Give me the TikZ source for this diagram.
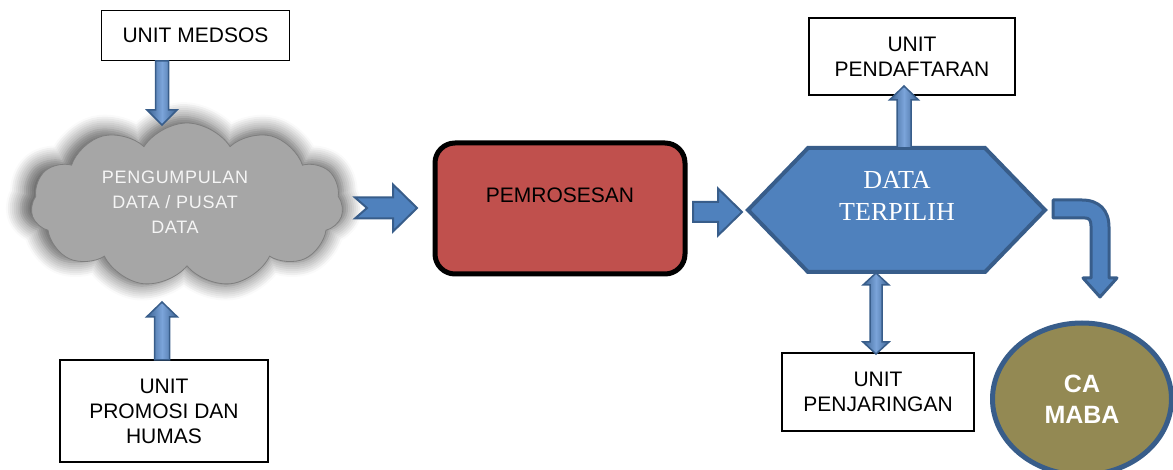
\documentclass[tikz,border=0pt]{standalone}
\usepackage{fontspec}
\setmainfont{Liberation Sans}
\newfontfamily\hexfont{Liberation Serif}
\newfontfamily\cloudfont[LetterSpace=4]{Liberation Sans}
\usetikzlibrary{shapes.symbols,shapes.geometric,calc,shadows.blur}
\definecolor{ablue}{HTML}{4F81BD}
\definecolor{dblue}{HTML}{385D8A}
\definecolor{lblue}{HTML}{7BA4DA}
\definecolor{procred}{HTML}{C0504D}
\definecolor{olive}{HTML}{938953}
\definecolor{cloudgray}{HTML}{A6A6A6}
\definecolor{cloudline}{HTML}{7F7F7F}
\tikzset{
  unitbox/.style={draw=black, line width=1.2pt, fill=white, align=center,
    font=\fontsize{21}{25}\selectfont, inner sep=0pt},
  varrow/.style={draw=dblue, line width=1.5pt, left color=dblue!85!ablue,
    right color=dblue!85!ablue, middle color=lblue},
  harrow/.style={draw=dblue, line width=2pt, fill=ablue},
  cararrow/.style={draw=dblue, line width=3pt, fill=ablue, line join=round},
}
% vertical block arrow: tail, tip, half shaft, half head, signed head length
\newcommand\varr[5]{\path[varrow] ($(#1)+(-#3,0)$) -- ($(#2)+(-#3,0)-(0,#5)$) -- ($(#2)+(-#4,0)-(0,#5)$) -- (#2) -- ($(#2)+(#4,0)-(0,#5)$) -- ($(#2)+(#3,0)-(0,#5)$) -- ($(#1)+(#3,0)$) -- cycle;}
% horizontal block arrow pointing right: tail, tip, half shaft, half head, head length, notch
\newcommand\harr[6]{\path[harrow] ($(#1)+(0,-#3)$) -- ($(#2)+(-#5,-#3)$) -- ($(#2)+(-#5,-#4)$) -- (#2) -- ($(#2)+(-#5,#4)$) -- ($(#2)+(-#5,#3)$) -- ($(#1)+(0,#3)$) -- ($(#1)+(#6,0)$) -- cycle;}
\begin{document}
\begin{tikzpicture}[x=1pt,y=-1pt]
\useasboundingbox (0,0) rectangle (1173,470);

% cloud
\node[cloud, cloud puffs=11, cloud puff arc=115, cloud ignores aspect,
  minimum width=312, minimum height=164, fill=cloudgray, draw=cloudline, line width=0.8pt,
  blur shadow={shadow blur radius=14pt, shadow xshift=-3pt, shadow yshift=2pt, shadow scale=1.05, shadow opacity=65, shadow blur steps=8}]
  (cloud) at (187,205) {};
\node[text=white!96!black, align=center, font=\cloudfont\fontsize{18}{25}\selectfont]
  (cloudtext) at (175,202) {PENGUMPULAN\\DATA / PUSAT\\DATA};

% unit boxes
\node[unitbox, minimum width=188, minimum height=50] (medsos) at (195.5,35.5) {UNIT MEDSOS};
\node[unitbox, minimum width=208, minimum height=102] (promosi) at (164,411) {UNIT\\PROMOSI DAN\\HUMAS};
\node[unitbox, minimum width=206, minimum height=77] (daftar) at (912,56.5) {UNIT\\PENDAFTARAN};
\node[unitbox, minimum width=192, minimum height=78] (jaring) at (878,392) {UNIT\\PENJARINGAN};

% processing box
\node[draw=black, line width=5pt, fill=procred, rounded corners=20pt,
  minimum width=250, minimum height=131, inner sep=0pt] (proc) at (560,208.5) {};
\node[font=\fontsize{21}{25}\selectfont, inner sep=0pt] (proctext) at (560,195) {PEMROSESAN};

% hexagon
\coordinate (hexW) at (748,210);
\coordinate (hexE) at (1045,210);
\coordinate (hexN) at (904,148);
\coordinate (hexS) at (876,272);
\path[draw=dblue, line width=4pt, fill=ablue, line join=miter]
  (hexW) -- (808,148) -- (985,148) -- (hexE) -- (985,272) -- (808,272) -- cycle;
\node[text=white, align=center, font=\hexfont\fontsize{26}{32}\selectfont, inner sep=0pt]
  (hextext) at (897,196) {DATA\\TERPILIH};

% CA MABA
\node[ellipse, draw=dblue, line width=5pt, fill=olive, minimum width=179, minimum height=152,
  inner sep=0pt, align=center, text=white, font=\bfseries\fontsize{25}{31}\selectfont]
  (maba) at (1082,399) {CA\\MABA};

% arrows
\coordinate (a1s) at (162,61);  \coordinate (a1t) at (162,125);
\varr{a1s}{a1t}{6.5}{15}{15}
\coordinate (a2s) at (162,360); \coordinate (a2t) at (162,302);
\varr{a2s}{a2t}{7.5}{15.5}{-15}
\coordinate (a3s) at (904,148); \coordinate (a3t) at (904,86);
\varr{a3s}{a3t}{7}{14.5}{-14}

\coordinate (h1s) at (355,208); \coordinate (h1t) at (417,208);
\harr{h1s}{h1t}{10.5}{23.5}{24}{12}
\coordinate (h2s) at (693,212); \coordinate (h2t) at (742,212);
\harr{h2s}{h2t}{10}{23.5}{24}{0}

% double arrow hexagon <-> penjaringan
\coordinate (d1) at (876,273); \coordinate (d2) at (876,354);
\path[varrow] (d1) -- ($(d1)+(13,12)$) -- ($(d1)+(6,12)$) -- ($(d2)+(6,-12)$) -- ($(d2)+(13,-12)$)
  -- (d2) -- ($(d2)+(-13,-12)$) -- ($(d2)+(-6,-12)$) -- ($(d1)+(-6,12)$) -- ($(d1)+(-13,12)$) -- cycle;

% bent arrow to CA MABA
\coordinate (b1) at (1053,209);
\coordinate (b2) at (1100,297);
\path[cararrow] ($(b1)+(0,-9)$) -- ($(b1)+(29,-9)$) .. controls ($(b1)+(46,-9)$) and ($(b1)+(56,1)$) .. ($(b1)+(56,18)$)
  -- ($(b2)+(9,-19)$) -- ($(b2)+(17,-19)$) -- (b2) -- ($(b2)+(-17,-19)$) -- ($(b2)+(-9,-19)$)
  -- ($(b1)+(38,17)$) .. controls ($(b1)+(38,11)$) and ($(b1)+(36,9)$) .. ($(b1)+(32,9)$) -- ($(b1)+(0,9)$) -- cycle;
\end{tikzpicture}
\end{document}
